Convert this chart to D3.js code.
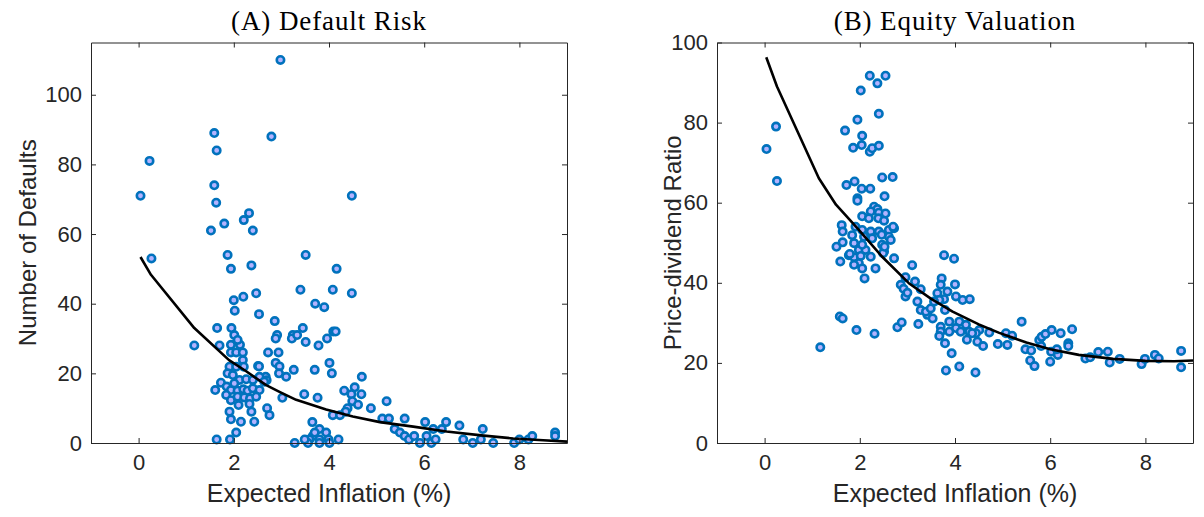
<!DOCTYPE html>
<html>
<head>
<meta charset="utf-8">
<script src="https://cdn.jsdelivr.net/npm/d3@7"></script>
<style>
  body { margin: 0; background: #fff; }
  svg { display: block; }
</style>
</head>
<body>
<svg id="chart" width="1204" height="517"></svg>
<script>
// ---- data -------------------------------------------------------------
const inflationTicks = [0, 2, 4, 6, 8];
const defaultsTicks = [0, 20, 40, 60, 80, 100];
const priceDividendTicks = [0, 20, 40, 60, 80, 100];

// (expected inflation %, number of defaults)
const defaultsPoints = [
  [2.98,110],[1.59,89],[1.64,84],[2.79,88],[0.23,81],[0.04,71],[1.59,74],[1.63,69],[4.48,71],
  [2.32,66],[2.21,64],[1.80,63],[1.52,61],[2.40,61],[0.27,53],[1.87,54],[3.51,54],[1.94,50],
  [2.37,51],[4.16,50],[3.40,44],[4.08,44],[2.47,43],[4.48,43],[2.20,42],[2.00,41],[2.02,38],
  [3.71,40],[3.90,39],[2.53,37],[2.86,35],[1.65,33],[1.95,33],[3.45,33],[4.09,32],[4.14,32],
  [2.91,31],[2.88,30],[3.24,31],[3.22,30],[3.33,31],[3.96,30],[3.51,29],[1.17,28],[1.70,28],
  [3.78,28],[2.01,31],
  [1.94,28.2],[2.13,28.2],[2.08,29.6],[1.94,26],[2.05,26],[2.19,26],[2.19,23.8],[1.91,21.9],
  [2.05,21.9],[2.21,21.9],[2.51,22.1],[2.72,26],[2.94,26],[2.88,23],[2.96,22],[2.95,20],
  [3.10,19],[3.26,21],[3.70,21],[4.06,20],[4.01,23],[4.69,19],[2.53,22],[2.67,19],[2.69,18],
  [1.87,20],[1.98,19.5],[2.12,18.1],[2.26,18.3],[2.40,18.1],[2.54,19],[2.64,17.6],[1.73,17.3],
  [1.61,15.2],[1.85,16.2],[1.94,15.2],[2.01,17.1],[2.08,15],[2.20,15.4],[2.29,15],[2.40,15.7],
  [2.54,15.2],[1.84,13.8],[1.94,12.3],[2.08,13.3],[2.22,13.1],[2.34,12.8],[2.47,13.3],
  [2.10,10.9],[2.33,11.2],[1.91,9],[2.37,9],[1.94,6.8],[2.15,6.1],[2.43,6.1],[2.70,10],
  [2.75,8],[3.02,13],[2.05,3],[1.64,1],[1.92,1],
  [3.48,14],[3.76,13],[4.32,15],[4.54,16],[4.68,14],[4.47,14],[4.49,12],[4.61,11],[4.39,10],
  [4.35,9],[4.08,8],[4.23,8],[5.21,12],[4.88,10],[5.12,7],[5.26,7],[5.59,7],[6.02,6],[6.46,6],
  [6.74,5],[7.23,4],[6.19,4],[6.37,4],[5.38,4],[5.49,3],[5.59,2],[5.68,1],[5.79,2],[5.91,0],
  [6.05,2],[6.15,0],[6.24,1],[6.82,1],[7.02,0],[7.19,1],[7.45,0],[7.89,0],[8.0,1],[8.19,1],
  [8.27,2],[8.75,3],[8.75,2],
  [3.65,6],[3.80,4],[3.94,3],[3.66,2],[3.59,1],[3.80,1],[3.99,1],[3.28,0],[3.56,0],[3.80,0],
  [4.01,0],[4.20,1],[3.49,1],[3.70,3]
];

// fitted relation, defaults vs inflation
const defaultsFit = [
  [0.04,53.4],[0.26,48.3],[1.17,33],[1.9,23.8],[2.26,20.6],[2.68,16.6],[2.96,14.7],[3.31,12.4],
  [3.94,9.6],[4.5,7.6],[5.07,6.0],[5.77,4.7],[6.47,3.3],[7.2,2.2],[7.87,1.3],[8.5,0.8],[9.0,0.4]
];

// (expected inflation %, price-dividend ratio)
const priceDividendPoints = [
  [0.04,73.4],[0.24,79.0],[0.26,65.4],[1.17,23.9],[2.21,91.7],[2.54,91.7],[2.37,89.8],[2.02,88],
  [2.40,82.2],[1.95,80.7],[1.69,78],[2.05,76.7],[2.04,74.4],[1.86,73.7],[2.21,72.7],[2.26,73.6],
  [2.40,74.2],[2.47,66.3],[2.69,66.4],[1.72,64.4],[1.89,65.3],[2.04,63.5],[2.22,63.5],[2.52,61.6],
  [1.95,61.1],[1.95,60.5],
  [2.30,59],[2.37,58.4],[2.40,57.5],[2.23,57.8],[2.05,56.6],[2.39,56.1],[2.51,55.5],[2.19,56.1],
  [2.54,57.3],[1.62,54.4],[1.64,52.8],[1.91,54.0],[2.05,53.2],[2.23,52.8],[2.40,52.8],[2.61,53.2],
  [2.72,53.6],[1.84,51.9],[2.09,51.5],[2.26,51.1],[2.61,51.5],[2.46,52],[2.70,54],
  [1.51,49],[1.64,50.1],[1.88,49.9],[1.98,48.2],[2.12,48.2],[1.77,46.9],[1.88,46.4],[2.02,46.7],
  [2.23,46.5],[2.47,49.5],[2.51,47.8],[2.65,50.7],[2.05,49.5],[2.49,47.4],[2.52,49],
  [1.59,45.3],[1.98,44.9],[1.88,44.5],[2.05,43.6],[2.33,43.6],[2.72,46.1],[2.10,41.1],[1.79,47.2],
  [3.10,44.4],[2.96,41.4],[2.86,39.5],[2.96,36.6],[3.16,40.3],[3.28,38.4],[3.21,35.3],[3.28,33.2],
  [3.42,32],[3.53,31.1],[3.39,32.8],[3.49,33.6],[2.92,38.5],[3.0,37.5],
  [3.77,46.9],[3.98,46.0],[3.72,41.1],[3.70,39.5],[4.0,39.6],[3.63,37.4],[3.84,37.8],[3.77,35.9],
  [3.67,35.7],[3.56,35.3],[4.02,36.6],[4.16,35.7],[4.31,35.9],[3.79,33.2],
  [1.58,31.6],[1.64,31.1],[1.93,28.2],[2.31,27.3],[2.79,28.9],[2.88,30.1],[3.23,29.7],
  [3.70,29],[3.70,27.8],[3.67,26.7],[3.79,24.9],[3.93,22.4],[3.81,18.1],[4.09,19.1],[4.43,17.6],
  [3.88,30.3],[4.09,30.3],[4.23,29.5],[4.02,28.7],[4.12,27.8],[3.88,27.8],[4.30,27.8],[4.51,28.2],
  [4.44,27.4],[4.72,27.6],[5.07,27.4],
  [4.25,25.8],[4.47,25.3],[4.59,24.2],[4.36,27.4],[4.9,24.7],[5.1,24.5],[5.2,26.8],[5.4,30.3],
  [5.48,23.4],[5.6,23.1],[5.58,20.6],[5.67,19.2],
  [5.77,25.7],[5.82,26.5],[5.9,27.2],[6.03,28.2],[6.22,27.4],[6.46,28.4],[5.81,24.2],[6.02,22.8],
  [6.16,22],[6.14,23.4],[6.0,20.3],[6.38,24.9],[6.38,24.2],
  [6.74,21.1],[6.84,21.4],[7.01,22.7],[7.21,22.8],[7.25,20.1],[7.46,21],[7.92,19.7],[7.99,21],
  [8.2,22],[8.28,21.1],[8.75,23],[8.75,18.9]
];

// fitted relation, price-dividend ratio vs inflation
const priceDividendFit = [
  [0.035,96.3],[0.26,89],[1.14,66.1],[1.5,59.5],[1.98,53.2],[2.47,46.5],[3.03,39.9],[3.5,36],
  [3.95,32.8],[4.5,29.6],[4.93,27.5],[5.5,25.1],[6.0,23.4],[6.6,22],[7.32,21],[8.0,20.5],
  [8.6,20.4],[9.0,20.6]
];

// ---- drawing ----------------------------------------------------------
const svg = d3.select("#chart");
const axisColor = "#262626";
const plotTop = 42.5, plotBottom = 443;
const sansFont = "'Liberation Sans', Arial, Helvetica, sans-serif";

const panels = [
  { title: "(A) Default Risk", yLabel: "Number of Defaults",
    points: defaultsPoints, fit: defaultsFit, yDomain: [0, 115], yTicks: defaultsTicks,
    left: 91, right: 567, yLabelX: 36 },
  { title: "(B) Equity Valuation", yLabel: "Price-dividend Ratio",
    points: priceDividendPoints, fit: priceDividendFit, yDomain: [0, 100], yTicks: priceDividendTicks,
    left: 717, right: 1193, yLabelX: 681 }
];

panels.forEach(p => {
  const x = d3.scaleLinear().domain([-1, 9]).range([p.left, p.right]);
  const y = d3.scaleLinear().domain(p.yDomain).range([plotBottom, plotTop]);
  const g = svg.append("g");

  // markers
  g.append("g").selectAll("circle").data(p.points).join("circle")
    .attr("cx", d => x(d[0])).attr("cy", d => y(d[1]))
    .attr("r", 3.7)
    .attr("fill", "#b3b3ff")
    .attr("stroke", "#0072BD")
    .attr("stroke-width", 2.6);

  // fitted curve
  g.append("path").datum(p.fit)
    .attr("d", d3.line().x(d => x(d[0])).y(d => y(d[1])))
    .attr("fill", "none").attr("stroke", "#000").attr("stroke-width", 2.6)
    .attr("stroke-linejoin", "round");

  // axes: ticks inside, mirrored on top and right
  const tickLen = 5;
  const axisBottom = d3.axisBottom(x).tickValues(inflationTicks).tickSizeInner(-tickLen).tickSizeOuter(0).tickPadding(11);
  const axisTop = d3.axisTop(x).tickValues(inflationTicks).tickSizeInner(-tickLen).tickSizeOuter(0).tickFormat("");
  const axisLeft = d3.axisLeft(y).tickValues(p.yTicks).tickSizeInner(-tickLen).tickSizeOuter(0).tickPadding(9);
  const axisRight = d3.axisRight(y).tickValues(p.yTicks).tickSizeInner(-tickLen).tickSizeOuter(0).tickFormat("");

  const styleAxis = sel => {
    sel.selectAll("path,line").attr("stroke", axisColor).attr("stroke-width", 1);
    sel.selectAll("text").attr("fill", axisColor)
      .style("font-family", sansFont).style("font-size", "22px");
  };
  g.append("g").attr("transform", `translate(0,${plotBottom})`).call(axisBottom).call(styleAxis);
  g.append("g").attr("transform", `translate(0,${plotTop})`).call(axisTop).call(styleAxis);
  g.append("g").attr("transform", `translate(${p.left},0)`).call(axisLeft).call(styleAxis);
  g.append("g").attr("transform", `translate(${p.right},0)`).call(axisRight).call(styleAxis);
  g.selectAll(".domain").attr("fill", "none");

  // title
  g.append("text")
    .attr("x", (p.left + p.right) / 2).attr("y", 30)
    .attr("text-anchor", "middle")
    .style("font-family", "'Liberation Serif', 'Times New Roman', serif")
    .style("font-size", "27px").style("letter-spacing", "0.9px").attr("fill", "#000")
    .text(p.title);

  // x label
  g.append("text")
    .attr("x", (p.left + p.right) / 2).attr("y", 502)
    .attr("text-anchor", "middle")
    .style("font-family", sansFont)
    .style("font-size", "25px").attr("fill", axisColor)
    .text("Expected Inflation (%)");

  // y label
  g.append("text")
    .attr("transform", `translate(${p.yLabelX},${(plotTop + plotBottom) / 2}) rotate(-90)`)
    .attr("text-anchor", "middle")
    .style("font-family", sansFont)
    .style("font-size", "24px").attr("fill", axisColor)
    .text(p.yLabel);
});
</script>
</body>
</html>
